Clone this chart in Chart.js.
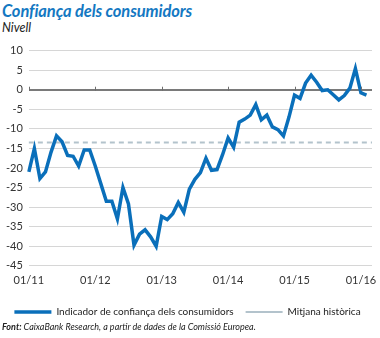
<!DOCTYPE html>
<html lang="ca">
<head>
<meta charset="UTF-8">
<title>Confiança dels consumidors</title>
<script src="https://cdn.jsdelivr.net/npm/chart.js"></script>
<style>
    html, body {
        margin: 0;
        padding: 0;
        background: #fff;
    }
    body {
        width: 380px;
        height: 338px;
        position: relative;
        overflow: hidden;
        font-family: Lato, "Open Sans", sans-serif;
        color: #222;
    }
    .titol {
        position: absolute;
        left: 2px;
        top: 1px;
        font-size: 16.5px;
        font-weight: bold;
        font-style: italic;
        color: #1478c2;
        letter-spacing: -0.1px;
    }
    .subtitol {
        position: absolute;
        left: 2px;
        top: 20px;
        font-size: 12.5px;
        font-style: italic;
        color: #222;
    }
    .grafic {
        position: absolute;
        left: 0;
        top: 38px;
        width: 380px;
        height: 289px;
    }
    .font {
        position: absolute;
        left: 2px;
        top: 321px;
        font-size: 9px;
        font-style: italic;
        color: #222;
        white-space: nowrap;
    }
    .font b { font-weight: bold; }
</style>
</head>
<body>
    <div class="titol">Confiança dels consumidors</div>
    <div class="subtitol">Nivell</div>
    <div class="grafic"><canvas id="confianca"></canvas></div>
    <div class="font"><b>Font:</b> CaixaBank Research, a partir de dades de la Comissió Europea.</div>

<script>
    // Indicador mensual de confiança, gener 2011 - febrer 2016
    const valors2011 = [-21, -15, -22.7, -21, -16, -11.8, -13.3, -16.8, -17, -19.5, -15.4, -15.4];
    const valors2012 = [-19.5, -24, -28.5, -28.5, -33, -25, -29.2, -39.7, -36.9, -35.8, -37.6, -40];
    const valors2013 = [-32.4, -33.2, -31.7, -28.8, -31.3, -25.4, -22.9, -21.2, -17.5, -20.6, -20.4, -16.6];
    const valors2014 = [-12.3, -14.7, -8.3, -7.5, -6.5, -3.8, -7.7, -6.5, -9.5, -10.2, -11.8, -7];
    const valors2015 = [-1.4, -2.2, 1.7, 3.7, 1.9, -0.2, 0, -1.3, -2.6, -1.5, 0.4, 5.4];
    const valors2016 = [-0.8, -1.4];

    const mitjanaHistorica = -13.5;

    const anys = ['11', '12', '13', '14', '15', '16'];
    const mesos = ['01', '02', '03', '04', '05', '06', '07', '08', '09', '10', '11', '12'];

    // l'eix arriba fins a 03/16
    const etiquetes = [];
    anys.forEach(a => mesos.forEach(m => etiquetes.push(m + '/' + a)));
    etiquetes.splice(etiquetes.indexOf('03/16') + 1);

    const indicador = [].concat(valors2011, valors2012, valors2013, valors2014, valors2015, valors2016);
    const mitjana = etiquetes.map(() => mitjanaHistorica);

    // petites marques sobre la línia del zero a cada gener
    const marquesZero = {
        id: 'marquesZero',
        afterDraw(chart) {
            const x = chart.scales.x, y = chart.scales.y;
            const y0 = y.getPixelForValue(0);
            const ctx = chart.ctx;
            ctx.save();
            ctx.strokeStyle = '#6e6e6e';
            ctx.lineWidth = 1;
            etiquetes.forEach((e, i) => {
                if (!e.startsWith('01/')) return;
                const px = Math.round(x.getPixelForValue(i)) + 0.5;
                ctx.beginPath();
                ctx.moveTo(px, y0 - 3);
                ctx.lineTo(px, y0 + 1);
                ctx.stroke();
            });
            ctx.restore();
        }
    };

    Chart.defaults.font.family = 'Lato, "Open Sans", sans-serif';
    Chart.defaults.color = '#333';

    new Chart(document.getElementById('confianca'), {
        type: 'line',
        data: {
            labels: etiquetes,
            datasets: [{
                label: 'Indicador de confiança dels consumidors',
                data: indicador,
                borderColor: '#0a6fba',
                backgroundColor: '#0a6fba',
                borderWidth: 3.5,
                pointRadius: 0,
                tension: 0,
                order: 1
            }, {
                label: 'Mitjana històrica',
                data: mitjana,
                borderColor: '#b3c3cc',
                backgroundColor: '#b3c3cc',
                borderWidth: 2,
                borderDash: [5, 4],
                pointRadius: 0,
                order: 2
            }]
        },
        options: {
            responsive: true,
            maintainAspectRatio: false,
            animation: false,
            layout: { padding: { left: 0, right: 5, top: 6, bottom: 0 } },
            plugins: {
                tooltip: { enabled: false },
                legend: {
                    position: 'bottom',
                    labels: {
                        usePointStyle: true,
                        pointStyle: 'line',
                        pointStyleWidth: 37,
                        boxHeight: 10,
                        padding: 12,
                        font: { size: 10 },
                        color: '#222'
                    }
                }
            },
            scales: {
                x: {
                    offset: false,
                    grid: { display: false, drawTicks: false },
                    border: { display: false },
                    ticks: {
                        autoSkip: false,
                        maxRotation: 0,
                        padding: 8,
                        font: { size: 11 },
                        callback(value) {
                            const e = this.getLabelForValue(value);
                            return e.startsWith('01/') ? e : '';
                        }
                    }
                },
                y: {
                    min: -45,
                    max: 10,
                    ticks: { stepSize: 5, autoSkip: false, padding: 6, font: { size: 11 } },
                    border: { display: false },
                    grid: {
                        drawTicks: false,
                        color: c => c.tick.value === 0 ? '#7a7a7a' : '#d6d6d6',
                        lineWidth: c => c.tick.value === 0 ? 2 : 1
                    }
                }
            }
        },
        plugins: [marquesZero]
    });
</script>
</body>
</html>
